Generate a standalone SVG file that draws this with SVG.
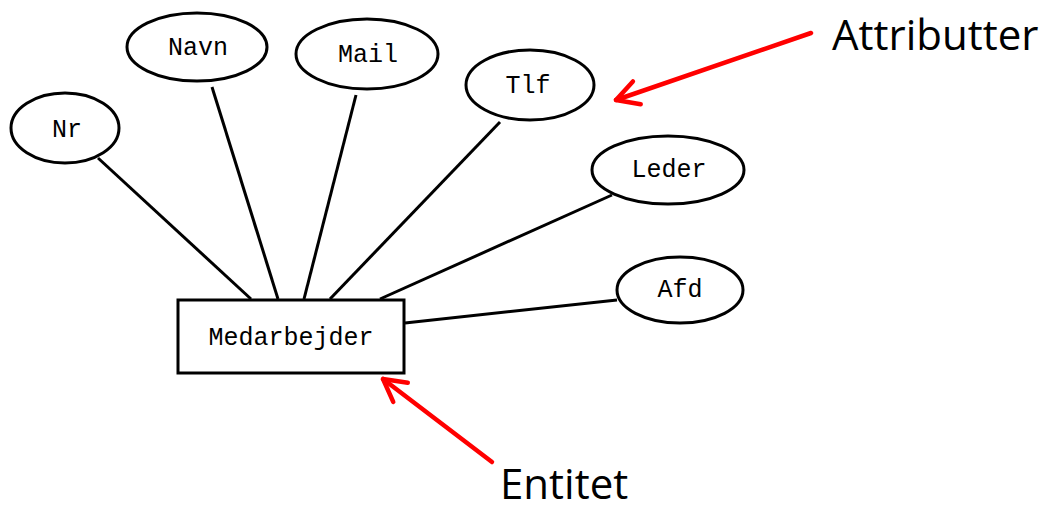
<svg xmlns="http://www.w3.org/2000/svg" width="1043" height="505" viewBox="0 0 1043 505">
<style>
.attr{fill:#fff;stroke:#000;stroke-width:3}
.ent{fill:#fff;stroke:#000;stroke-width:3}
.lbl{font-family:"Liberation Mono","DejaVu Sans Mono",monospace;font-size:25px;fill:#000;text-anchor:middle}
.conn{stroke:#000;stroke-width:3;fill:none}
.note{stroke:#f00;stroke-width:4.5;fill:none;stroke-linecap:round}
.cap{font-family:"Open Sans","Liberation Sans",sans-serif;font-size:42px;fill:#000}
</style>
<defs>
<marker id="chev" markerUnits="userSpaceOnUse" markerWidth="40" markerHeight="40" refX="0" refY="0" viewBox="-30 -20 40 40" orient="auto" overflow="visible">
<path d="M -22 -12 L 0 0 L -22 12" fill="none" stroke="#f00" stroke-width="4.5" stroke-linecap="round" stroke-linejoin="round"/>
</marker>
</defs>
<rect width="1043" height="505" fill="#fff"/>
<g id="connectors">
<line class="conn" x1="98" y1="158" x2="251" y2="299"/>
<line class="conn" x1="212" y1="87" x2="278" y2="299"/>
<line class="conn" x1="356" y1="95" x2="304" y2="299"/>
<line class="conn" x1="500" y1="122" x2="330" y2="299"/>
<line class="conn" x1="612" y1="195" x2="380" y2="299"/>
<line class="conn" x1="617" y1="300" x2="405" y2="323"/>
</g>
<g id="Nr"><ellipse class="attr" cx="65" cy="128" rx="54" ry="35"/><text class="lbl" x="67" y="137">Nr</text></g>
<g id="Navn"><ellipse class="attr" cx="197" cy="47" rx="70" ry="34"/><text class="lbl" x="198" y="55">Navn</text></g>
<g id="Mail"><ellipse class="attr" cx="367" cy="54" rx="71" ry="35"/><text class="lbl" x="368" y="62">Mail</text></g>
<g id="Tlf"><ellipse class="attr" cx="530" cy="85" rx="64" ry="35"/><text class="lbl" x="528" y="93">Tlf</text></g>
<g id="Leder"><ellipse class="attr" cx="668" cy="170" rx="76" ry="34"/><text class="lbl" x="669" y="177">Leder</text></g>
<g id="Afd"><ellipse class="attr" cx="680" cy="290" rx="63" ry="33"/><text class="lbl" x="680" y="297">Afd</text></g>
<g id="Medarbejder"><rect class="ent" x="178" y="300" width="226" height="73"/><text class="lbl" x="291" y="345">Medarbejder</text></g>
<g id="annotations">
<line class="note" x1="811" y1="33" x2="616" y2="100" marker-end="url(#chev)"/>
<line class="note" x1="492" y1="462" x2="383" y2="379" marker-end="url(#chev)"/>
<text class="cap" x="832" y="50">Attributter</text>
<text class="cap" x="500" y="499">Entitet</text>
</g>
</svg>
